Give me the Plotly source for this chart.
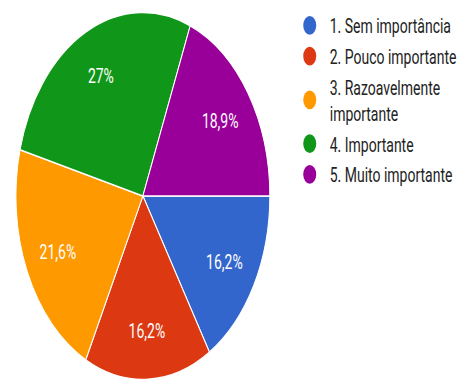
import plotly.graph_objects as go

# Data (counts read from percentages; 37 responses)
categories = ["1. Sem importância", "2. Pouco importante",
              "3. Razoavelmente importante", "4. Importante",
              "5. Muito importante"]
legend_labels = ["1. Sem importância", "2. Pouco importante",
                 "3. Razoavelmente<br>importante", "4. Importante",
                 "5. Muito importante"]
counts = [6, 6, 8, 10, 7]
colors = ["#3366cc", "#dc3912", "#ff9900", "#109618", "#990099"]

W, H = 462, 265      # drawn size before vertical stretch
STRETCH = 383 / H    # reference image is stretched vertically
dom = dict(x=[16 / W, 271 / W], y=[1 - 263.1 / H, 1 - 8.1 / H])

fig = go.Figure()
# filled slices
fig.add_trace(go.Pie(
    labels=categories, values=counts, sort=False,
    direction="clockwise", rotation=90,
    marker=dict(colors=colors, line=dict(color="white", width=1)),
    textinfo="none", showlegend=False, hoverinfo="skip", domain=dom,
))
# percentage labels placed in the outer ring of the same pie
fig.add_trace(go.Pie(
    labels=categories, values=counts, sort=False,
    direction="clockwise", rotation=90, hole=0.47,
    marker=dict(colors=["rgba(0,0,0,0)"] * len(counts),
                line=dict(width=0)),
    texttemplate="%{percent:.3~p}",
    textposition="inside", insidetextorientation="horizontal",
    textfont=dict(color="white", size=14, family="Roboto"),
    showlegend=False, hoverinfo="skip", domain=dom,
))

# legend entries with circular markers
for i, (lab, col) in enumerate(zip(legend_labels, colors)):
    fig.add_trace(go.Scatter(
        x=[None], y=[None], mode="markers", name=lab,
        legendgroup=f"g{i}",
        marker=dict(color=col, size=13, symbol="circle"),
        hoverinfo="skip",
    ))

fig.update_layout(
    width=W, height=H,
    margin=dict(l=0, r=0, t=0, b=0),
    paper_bgcolor="white", plot_bgcolor="white",
    separators=",.",
    font=dict(family="Roboto", size=14, color="#222222"),
    xaxis=dict(visible=False), yaxis=dict(visible=False),
    showlegend=True,
    legend=dict(x=291 / W, xanchor="left", y=1 - 2 / H, yanchor="top",
                tracegroupgap=0, itemsizing="trace",
                font=dict(family="Roboto", size=14, color="#222222"),
                bgcolor="rgba(0,0,0,0)"),
    hovermode=False,
)

post = (
    "var gd=document.getElementById('{plot_id}');"
    "gd.style.transformOrigin='0 0';"
    f"gd.style.transform='scaleY({STRETCH:.4f})';"
    "document.body.style.margin='0';"
)
fig.write_html("out.html", post_script=post, config={"displayModeBar": False})
